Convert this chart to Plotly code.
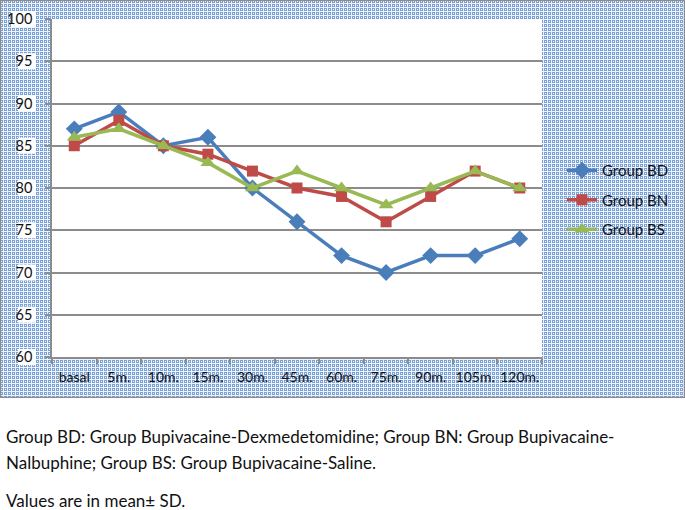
import base64
import plotly.graph_objects as go

categories = ["basal", "5m.", "10m.", "15m.", "30m.", "45m.", "60m.", "75m.", "90m.", "105m.", "120m."]
group_bd = [87, 89, 85, 86, 80, 76, 72, 70, 72, 72, 74]
group_bn = [85, 88, 85, 84, 82, 80, 79, 76, 79, 82, 80]
group_bs = [86, 87, 85, 83, 80, 82, 80, 78, 80, 82, 80]
y_ticks = [60, 65, 70, 75, 80, 85, 90, 95, 100]

FONT = "Lato"
W, H = 685, 510
L, R, T, B = 52, 143, 19, 153
PW, PH = W - L - R, H - T - B
HATCH_H = 398
Y0, Y1 = 60, 100

fig = go.Figure()
series = [
    ("Group BD", group_bd, "#4a7ebb", "diamond", 13),
    ("Group BN", group_bn, "#be4b48", "square", 11),
    ("Group BS", group_bs, "#98b954", "triangle-up", 13),
]
for name, vals, col, sym, sz in series:
    fig.add_trace(go.Scatter(
        x=categories, y=vals, name=name, mode="lines+markers",
        legendgroup=name,
        line=dict(color=col, width=3.5),
        marker=dict(symbol=sym, size=sz, color=col),
    ))

svg = (
    f'<svg xmlns="http://www.w3.org/2000/svg" width="{W}" height="{HATCH_H}" '
    f'viewBox="0 0 {W} {HATCH_H}">'
    '<defs><pattern id="p" width="4" height="4" patternUnits="userSpaceOnUse">'
    '<rect x="0" y="0" width="4" height="4" fill="#eef3fb"/>'
    '<rect x="0" y="0" width="3" height="3" fill="#7aa2da"/>'
    '<rect x="1" y="1" width="1" height="1" fill="#ffffff"/>'
    '</pattern></defs>'
    f'<rect x="0" y="0" width="{W}" height="{HATCH_H}" fill="url(#p)"/>'
    f'<rect x="0.6" y="0.6" width="{W - 1.2}" height="{HATCH_H - 1.2}" fill="none" '
    'stroke="#8c8c8c" stroke-width="1.2"/>'
    '</svg>'
)
src = "data:image/svg+xml;base64," + base64.b64encode(svg.encode()).decode()

fig.add_layout_image(dict(
    source=src, xref="paper", yref="paper",
    x=-L / PW, y=1 + T / PH, sizex=W / PW, sizey=HATCH_H / PH,
    xanchor="left", yanchor="top", sizing="stretch", layer="below",
))

# white plot area over the hatch
fig.add_shape(type="rect", xref="paper", yref="paper", x0=0, x1=1, y0=0, y1=1,
              fillcolor="white", line=dict(width=0), layer="below")

# white backdrops behind y tick labels
for v in y_ticks:
    wpx = 25 if v >= 100 else 18
    yc = (v - Y0) / (Y1 - Y0)
    fig.add_shape(type="rect", xref="paper", yref="paper",
                  x0=(36 - wpx - L) / PW, x1=(36 - L) / PW,
                  y0=yc - 8 / PH, y1=yc + 8 / PH,
                  fillcolor="#ffffff", opacity=1, line=dict(width=0), layer="below")

captions = [
    ("Group BD: Group Bupivacaine-Dexmedetomidine; Group BN: Group Bupivacaine-", 437),
    ("Nalbuphine; Group BS: Group Bupivacaine-Saline.", 462),
    ("Values are in mean± SD.", 500),
]
for txt, ypx in captions:
    fig.add_annotation(text=txt, xref="paper", yref="paper",
                       x=(4 - L) / PW, y=(H - B - ypx) / PH,
                       xanchor="left", yanchor="middle", showarrow=False,
                       font=dict(family=FONT, size=17, color="#111111"))

fig.update_layout(
    width=W, height=H,
    margin=dict(l=L, r=R, t=T, b=B, autoexpand=False),
    paper_bgcolor="white", plot_bgcolor="white",
    font=dict(family=FONT, size=14.5, color="#111111"),
    legend=dict(x=(562 - L) / PW, y=(H - B - 200) / PH, xanchor="left", yanchor="middle",
                bgcolor="rgba(0,0,0,0)", tracegroupgap=7,
                font=dict(family=FONT, size=15, color="#111111")),
    showlegend=True,
)
fig.update_xaxes(
    type="category", range=[-0.5, len(categories) - 0.5],
    showline=True, linecolor="#8c8c8c", linewidth=1.5,
    showgrid=False, ticks="outside", tickson="boundaries", ticklen=5,
    tickcolor="#8c8c8c", tickwidth=1.5, ticklabelstandoff=6,
    tickangle=0, tickfont=dict(family=FONT, size=14),
)
fig.update_yaxes(
    range=[Y0, Y1], tickvals=y_ticks,
    showline=True, linecolor="#8c8c8c", linewidth=1.5,
    showgrid=True, gridcolor="#8c8c8c", gridwidth=1.5,
    ticks="outside", ticklen=5, tickcolor="#8c8c8c", tickwidth=1.5,
    ticklabelstandoff=10, zeroline=False,
)

fig.write_html("out.html", config={"displayModeBar": False},
               post_script="document.body.style.margin='0';")
